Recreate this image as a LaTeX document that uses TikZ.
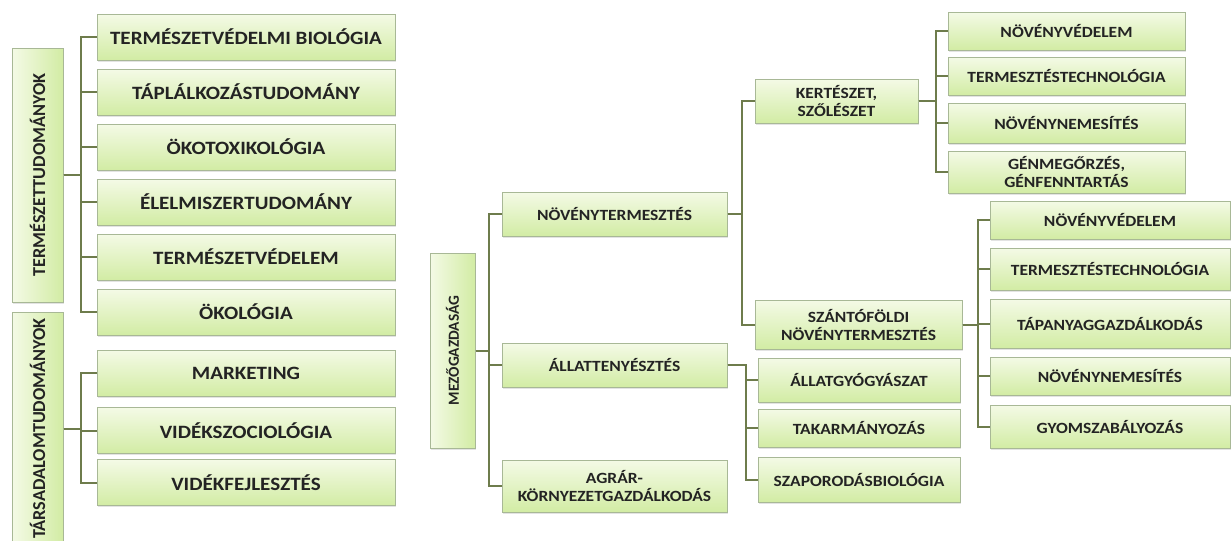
\documentclass[tikz,border=0pt]{standalone}
\usepackage{fontspec}
\setmainfont{Carlito}
\newfontfamily\boxfont{Carlito}[FakeStretch=1.12]
\usepackage{tikz}
\usetikzlibrary{shadows}
\definecolor{boxtop}{RGB}{244,250,230}
\definecolor{boxbot}{RGB}{210,236,164}
\definecolor{boxrim}{RGB}{168,184,150}
\definecolor{linkcol}{RGB}{110,124,76}
\definecolor{txtcol}{RGB}{35,35,35}

\begin{document}
\begin{tikzpicture}[x=0.5pt,y=-0.5pt,
  box/.style={draw=boxrim, line width=0.5pt, top color=boxtop, bottom color=boxbot,
    inner sep=0pt, align=center, text=txtcol,
    drop shadow={shadow xshift=0.5pt, shadow yshift=-0.8pt, opacity=0.22}},
  tbox/.style={box, left color=boxtop, right color=boxbot, minimum width=25.5pt,
    font=\fontsize{9.1}{10}\selectfont\bfseries},
  mzbox/.style={box, left color=boxtop, right color=boxbot, minimum width=22.5pt,
    minimum height=97.5pt, font=\fontsize{7.7}{9}\selectfont\bfseries},
  lbox/.style={box, minimum width=149pt, minimum height=23pt,
    font=\boxfont\fontsize{9.4}{10}\selectfont\bfseries},
  sbox/.style={box, font=\boxfont\fontsize{7.8}{9}\selectfont\bfseries},
  link/.style={draw=linkcol, line width=1pt}]
\useasboundingbox (0,0) rectangle (1232,541);
\clip (0,0) rectangle (1232,541);
\fill[white] (0,0) rectangle (1232,541);

\node[tbox, minimum height=127pt] (ttud) at (37.5,175) {\rotatebox{90}{TERMÉSZETTUDOMÁNYOK}};
\node[tbox, minimum height=116.5pt] (tars) at (37.5,428.5) {\rotatebox{90}{TÁRSADALOMTUDOMÁNYOK}};

\node[lbox] (tvb) at (246,37) {TERMÉSZETVÉDELMI BIOLÓGIA};
\node[lbox] (tap) at (246,92) {TÁPLÁLKOZÁSTUDOMÁNY};
\node[lbox] (okot) at (246,147) {ÖKOTOXIKOLÓGIA};
\node[lbox] (elm) at (246,202) {ÉLELMISZERTUDOMÁNY};
\node[lbox] (tve) at (246,257) {TERMÉSZETVÉDELEM};
\node[lbox] (ekol) at (246,312) {ÖKOLÓGIA};
\node[lbox] (mark) at (246,373) {MARKETING};
\node[lbox] (vszoc) at (246,430.5) {VIDÉKSZOCIOLÓGIA};
\node[lbox] (vfejl) at (246,482.5) {VIDÉKFEJLESZTÉS};

\node[mzbox] (mez) at (452.5,350.5) {\rotatebox{90}{MEZŐGAZDASÁG}};
\node[sbox, minimum width=112.5pt, minimum height=22pt] (nov) at (614.5,214) {NÖVÉNYTERMESZTÉS};
\node[sbox, minimum width=112.5pt, minimum height=22pt] (all) at (614.5,365) {ÁLLATTENYÉSZTÉS};
\node[sbox, minimum width=112.5pt, minimum height=26pt] (agr) at (614.5,486) {AGRÁR-\\KÖRNYEZETGAZDÁLKODÁS};

\node[sbox, minimum width=81.5pt, minimum height=22pt] (kert) at (836.5,101) {KERTÉSZET,\\SZŐLÉSZET};
\node[sbox, minimum width=103.5pt, minimum height=24.5pt] (szan) at (858.5,324.5) {SZÁNTÓFÖLDI\\NÖVÉNYTERMESZTÉS};

\node[sbox, minimum width=118.5pt, minimum height=19pt] (kved) at (1066.5,31) {NÖVÉNYVÉDELEM};
\node[sbox, minimum width=118.5pt, minimum height=19pt] (ktech) at (1066.5,76) {TERMESZTÉSTECHNOLÓGIA};
\node[sbox, minimum width=118.5pt, minimum height=20pt] (knem) at (1066.5,123) {NÖVÉNYNEMESÍTÉS};
\node[sbox, minimum width=118.5pt, minimum height=21pt] (kgen) at (1066.5,172) {GÉNMEGŐRZÉS,\\GÉNFENNTARTÁS};

\node[sbox, minimum width=120pt, minimum height=19pt] (sved) at (1110,220) {NÖVÉNYVÉDELEM};
\node[sbox, minimum width=120pt, minimum height=21pt] (stech) at (1110,269) {TERMESZTÉSTECHNOLÓGIA};
\node[sbox, minimum width=120pt, minimum height=24.5pt] (stap) at (1110,323.5) {TÁPANYAGGAZDÁLKODÁS};
\node[sbox, minimum width=120pt, minimum height=19pt] (snem) at (1110,376) {NÖVÉNYNEMESÍTÉS};
\node[sbox, minimum width=120pt, minimum height=21.5pt] (sgyom) at (1110,426.5) {GYOMSZABÁLYOZÁS};

\node[sbox, minimum width=101pt, minimum height=22pt] (agyo) at (859,380) {ÁLLATGYÓGYÁSZAT};
\node[sbox, minimum width=101pt, minimum height=19pt] (atak) at (859,428) {TAKARMÁNYOZÁS};
\node[sbox, minimum width=101pt, minimum height=22.5pt] (aszap) at (859,479.5) {SZAPORODÁSBIOLÓGIA};

\draw[link] (ttud.east) -- +(17,0) |- (tvb.west);
\draw[link] (ttud.east) -- +(17,0) |- (tap.west);
\draw[link] (ttud.east) -- +(17,0) |- (okot.west);
\draw[link] (ttud.east) -- +(17,0) |- (elm.west);
\draw[link] (ttud.east) -- +(17,0) |- (tve.west);
\draw[link] (ttud.east) -- +(17,0) |- (ekol.west);
\draw[link] (tars.east) -- +(17,0) |- (mark.west);
\draw[link] (tars.east) -- +(17,0) |- (vszoc.west);
\draw[link] (tars.east) -- +(17,0) |- (vfejl.west);

\draw[link] (mez.east) -- +(13,0) |- (nov.west);
\draw[link] (mez.east) -- +(13,0) |- (all.west);
\draw[link] (mez.east) -- +(13,0) |- (agr.west);
\draw[link] (nov.east) -- +(14,0) |- (kert.west);
\draw[link] (nov.east) -- +(14,0) |- (szan.west);
\draw[link] (all.east) -- +(18,0) |- (agyo.west);
\draw[link] (all.east) -- +(18,0) |- (atak.west);
\draw[link] (all.east) -- +(18,0) |- (aszap.west);

\draw[link] (kert.east) -- +(17,0) |- (kved.west);
\draw[link] (kert.east) -- +(17,0) |- (ktech.west);
\draw[link] (kert.east) -- +(17,0) |- (knem.west);
\draw[link] (kert.east) -- +(17,0) |- (kgen.west);
\draw[link] (szan.east) -- +(15,0) |- (sved.west);
\draw[link] (szan.east) -- +(15,0) |- (stech.west);
\draw[link] (szan.east) -- +(15,0) |- (stap.west);
\draw[link] (szan.east) -- +(15,0) |- (snem.west);
\draw[link] (szan.east) -- +(15,0) |- (sgyom.west);
\end{tikzpicture}
\end{document}
